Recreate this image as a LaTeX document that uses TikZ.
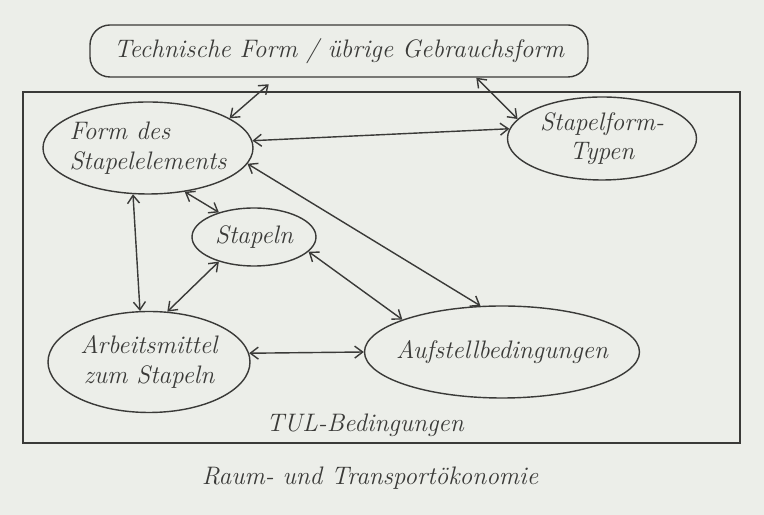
\documentclass[tikz,border=0pt]{standalone}
\usepackage{tikz}
\definecolor{paper}{RGB}{236,238,233}
\definecolor{pencil}{RGB}{58,58,56}
\usetikzlibrary{shapes.geometric, arrows.meta, positioning}
\tikzset{
	ovalnode/.style={draw=pencil, ellipse, line width=1pt, inner sep=0pt}
}
\tikzset{
	handtext/.style={font=\fontsize{18}{21}\selectfont\itshape, text=pencil}
}
\tikzset{
	twohead/.style={
			draw=pencil, line width=1pt,
			{Straight Barb[length=2mm,width=3mm]}-{Straight Barb[length=2mm,width=3mm]}
		}
}

\begin{document}
\begin{tikzpicture}

			\fill[paper] (0,0) rectangle (19.1,12.875);
			\useasboundingbox (0,0) rectangle (19.1,12.875);

			\node[draw=pencil, line width=1pt, rounded corners=0.5cm,
				minimum width=12.45cm, minimum height=1.3cm, handtext]
				(techform) at (8.475,11.6) {Technische Form / übrige Gebrauchsform};

			\draw[pencil, line width=1pt] (0.575,1.8) rectangle (18.5,10.575);

			\begin{scope}
				\node[ovalnode, minimum width=5.25cm, minimum height=2.3cm] (form) at (3.7,9.175) {};
				\node[ovalnode, minimum width=4.725cm, minimum height=2.075cm] (typen) at (15.05,9.4125) {};
				\node[ovalnode, minimum width=3.1cm, minimum height=1.45cm] (stapeln) at (6.35,6.95) {};
				\node[ovalnode, minimum width=5.05cm, minimum height=2.525cm] (mittel) at (3.725,3.825) {};
				\node[ovalnode, minimum width=6.875cm, minimum height=2.3cm] (aufst) at (12.55,4.075) {};

				\node[handtext, align=left] (formtxt) at (form) {Form des\\Stapelelements};
				\node[handtext, align=center] (typentxt) at (typen) {Stapelform-\\Typen};
				\node[handtext] (stapelntxt) at (stapeln) {Stapeln};
				\node[handtext, align=center] (mitteltxt) at (mittel) {Arbeitsmittel\\zum Stapeln};
				\node[handtext] (aufsttxt) at (aufst) {Aufstellbedingungen};
			\end{scope}

			\begin{scope}
				\draw[twohead, shorten >=0.25cm] (form.20) -- ([xshift=4.675cm]techform.south west);
				\draw[twohead] (typen.167) -- ([xshift=9.675cm]techform.south west);
				\draw[twohead] (form.4) -- (typen.174);
				\draw[twohead] (form.-9) -- (aufst.115);
				\draw[twohead] (form.-50) -- (stapeln.145);
				\draw[twohead] (form.-108) -- (mittel.100);
				\draw[twohead] (stapeln.-145) -- (mittel.70);
				\draw[twohead] (stapeln.-15) -- (aufst.162);
				\draw[twohead] (mittel.5) -- (aufst.west);
			\end{scope}

			\node[handtext] (tul) at (9.125,2.25) {TUL-Bedingungen};
			\node[handtext] (oekonomie) at (9.25,0.925) {Raum- und Transportökonomie};

		\end{tikzpicture}
\end{document}
